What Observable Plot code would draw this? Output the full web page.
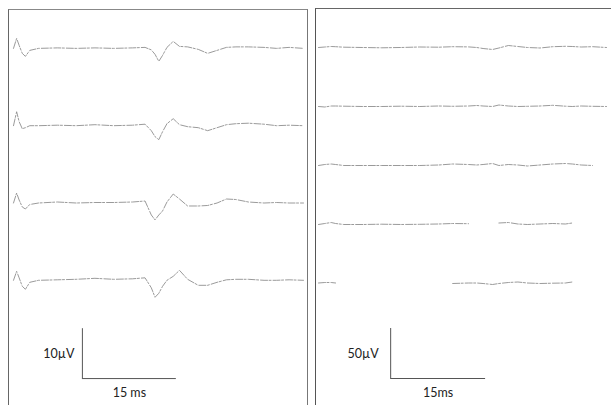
<!DOCTYPE html>
<html>
<head>
<meta charset="utf-8">
<script src="https://cdn.jsdelivr.net/npm/d3@7"></script>
<script src="https://cdn.jsdelivr.net/npm/@observablehq/plot@0.6"></script>
<style>
  html, body { margin: 0; padding: 0; background: #fff; }
  #wrap { position: relative; width: 611px; height: 405px; overflow: hidden; background: #fff; }
  #wrap svg { position: absolute; top: 0; font-family: Lato, "DejaVu Sans", sans-serif; }
  .frame { position: absolute; box-sizing: border-box; }
  #frameL { left: 8px; top: 9px; width: 300px; height: 400px; border-left: 1.2px solid #666; border-top: 1.2px solid #888; border-right: 1.2px solid #777; }
  #frameR { left: 315px; top: 8px; width: 300px; height: 400px; border-left: 1.5px solid #555; border-top: 1.2px solid #666; }
</style>
</head>
<body>
<div id="wrap">
  <div class="frame" id="frameL"></div>
  <div class="frame" id="frameR"></div>
</div>
<script>
// ---- Left panel: time (ms) and four traces (µV, relative to baseline)
const leftTime = [0, 0.5, 0.9, 1.4, 1.9, 2.6, 4, 7, 10, 13, 16, 19, 21, 22, 22.6, 23.2, 23.8, 24.5, 25.5, 26.5, 27.8, 29.5, 31, 32.5, 34, 35.5, 37.5, 40, 42, 44, 46.3];
const left1 = [0, 2.0, 0.6, -1.0, -1.6, -0.4, 0, 0.1, 0, 0.1, 0, 0.1, 0.2, -0.3, -1.2, -2.6, -1.4, 0.2, 1.4, 0.4, 0.3, -0.2, -1.0, -0.4, 0.2, 0.3, 0.3, 0.2, 0, 0.2, 0];
const left2 = [0, 2.8, 0.8, -0.6, -0.4, 0, 0, 0.1, 0, 0.2, 0, 0.1, 0.3, -1.0, -2.2, -2.8, -1.2, 0.4, 1.4, 0.2, -0.2, -0.4, -1.0, -0.4, 0.2, 0.4, 0.5, 0.3, 0, 0.1, 0];
const left3 = [0, 2.0, 0.6, -0.8, -1.2, -0.3, 0, 0.2, 0, 0.1, 0.1, 0.2, 0.4, -2.4, -3.4, -2.4, -1.6, 0.2, 1.8, 0.8, -0.6, -0.6, -0.5, 0, 0.8, 0.7, 0.2, 0, 0.1, 0, 0];
const left4 = [0, 1.8, 0.5, -1.2, -1.8, -0.4, 0, 0.1, 0.2, 0.4, 0.2, 0.3, 0.5, -1.5, -3.4, -2.6, -1.2, 0, 0.8, 2.0, 0.2, -1.0, -1.0, -0.4, 0.1, 0.2, 0.2, 0, 0, 0.1, 0];
const leftSpacing = 15.5;   // µV between stacked traces

// ---- Right panel: time (ms) and five traces (µV), null = trace drop-out
const rightTime = [0, 1, 2, 2.7, 4, 7, 10, 13, 16, 19, 21.2, 23.7, 25, 26, 27.5, 28.5, 30, 31.5, 33, 35, 37, 39, 40.1, 41.5, 43.3, 45.5];
const right1 = [0, 0.5, 1, 0.8, 0.3, 0, -0.3, 0, 0.5, 0.3, 0.8, 0.6, 0, -1, -2, -0.5, 2, 1, 0, -0.5, 0.8, 1.2, 1, 0.5, 0.8, 0];
const right2 = [0, -0.5, 0.5, 0.5, 0.3, 0, 0, 0.3, 0, 0.5, 0.2, 0.5, 1, 0.5, 0, 1.5, 0.5, 0, 0.2, 0.5, 1.2, 0.3, 0, 0.5, 0.2, 0];
const right3 = [0, 1, 1.5, 1, 0, 0, 0, 0, 0, 0.5, 1.5, 1, 0.5, 1, 2, 0, 1, 0.5, -0.5, 0.5, 1.5, 2, 1.5, 0.5, 0, null];
const right4 = [0, 1, 2, 1, 0, 0, 0.3, 0, 0.2, 0.5, 1, 0.8, null, null, null, 1.5, 2, 0.5, 0, 0.5, 1, 0.5, 1.5, null, null, null];
const right5 = [0.5, 1, 1, 0.5, null, null, null, null, null, null, 0, 0.5, 0.5, 0, -1, 0, 1, 1.5, 0.5, 0, 0.3, 0.5, 1.5, null, null, null];
const rightSpacing = 59;    // µV between stacked traces

// ---- Calibration bars
const calAmp = [10, 50];         // µV
const calTime = [15, 15];        // ms
const calAmpLabels = ["10µV", "50µV"];
const calTimeLabels = ["15 ms", "15ms"];

function stack(time, traces, spacing) {
  return traces.flatMap((vals, i) =>
    vals.map((v, j) => ({ t: time[j], trace: i, v: v == null ? NaN : v - i * spacing }))
  );
}

function panel({ data, width, marginLeft, marginRight, xDomain, yDomain, barX, barBottom, amp, dur, ampLabel, timeLabel, ampDx }) {
  return Plot.plot({
    width, height: 405,
    marginTop: 0, marginBottom: 0, marginLeft, marginRight,
    x: { domain: xDomain, axis: null },
    y: { domain: yDomain, axis: null },
    marks: [
      Plot.line(data, { x: "t", y: "v", z: "trace", stroke: "#8f8f8f", strokeWidth: 0.9, strokeDasharray: "7,1.5,2,2" }),
      Plot.ruleX([barX], { y1: barBottom, y2: barBottom + amp, stroke: "#555", strokeWidth: 1 }),
      Plot.ruleY([barBottom], { x1: barX, x2: barX + dur, stroke: "#555", strokeWidth: 1 }),
      Plot.text([ampLabel], { x: barX, y: barBottom + amp / 2, text: d => d, textAnchor: "end", dx: ampDx, fontSize: 12.5, fill: "#222" }),
      Plot.text([timeLabel], { x: barX + dur / 2, y: barBottom, text: d => d, dy: 14, fontSize: 12.5, fill: "#222" })
    ]
  });
}

const leftPlot = panel({
  data: stack(leftTime, [left1, left2, left3, left4], leftSpacing),
  width: 311, marginLeft: 13, marginRight: 8,
  xDomain: [0, 46.3], yDomain: [-71.6, 9.6],
  barX: 11, barBottom: -66.2, amp: calAmp[0], dur: calTime[0],
  ampLabel: calAmpLabels[0], timeLabel: calTimeLabels[0], ampDx: -8
});
leftPlot.style.left = "0px";

const rightPlot = panel({
  data: stack(rightTime, [right1, right2, right3, right4, right5], rightSpacing),
  width: 300, marginLeft: 7, marginRight: 5,
  xDomain: [0, 45.5], yDomain: [-358, 47],
  barX: 11.4, barBottom: -331, amp: calAmp[1], dur: calTime[1],
  ampLabel: calAmpLabels[1], timeLabel: calTimeLabels[1], ampDx: -12
});
rightPlot.style.left = "311px";

const wrap = document.getElementById("wrap");
wrap.appendChild(leftPlot);
wrap.appendChild(rightPlot);
</script>
</body>
</html>
